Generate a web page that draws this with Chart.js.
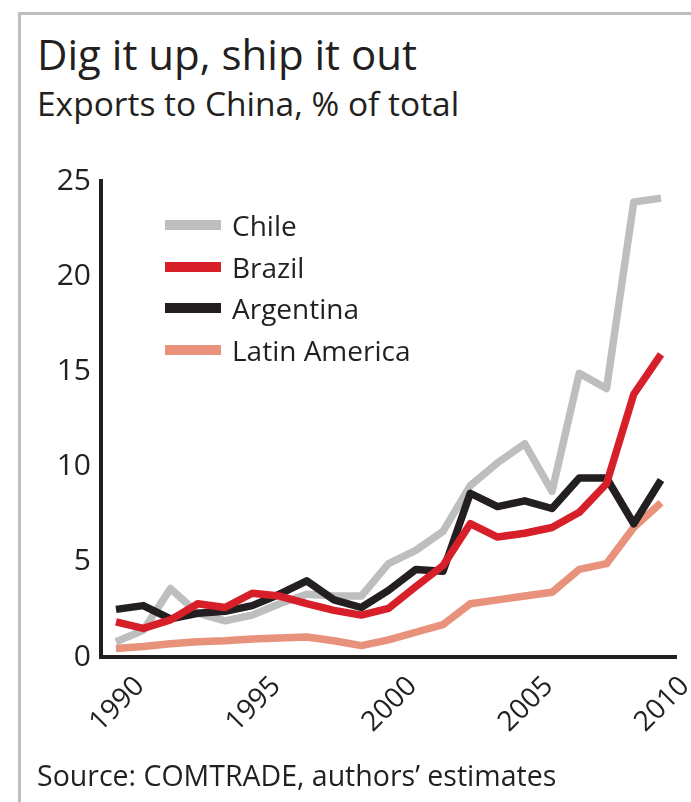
<!DOCTYPE html>
<html lang="en">
<head>
<meta charset="UTF-8">
<title>Dig it up, ship it out</title>
<style>
  html, body { margin: 0; padding: 0; background: #fff; }
  body { width: 691px; height: 802px; position: relative; overflow: hidden; font-family: 'Open Sans', sans-serif; color: #231f20; }
  .frame { position: absolute; left: 18px; top: 12px; right: -10px; bottom: -10px; border-left: 3px solid #bdbdbd; border-top: 3px solid #bdbdbd; }
  .title { position: absolute; left: 37px; top: 33px; font-size: 42px; line-height: 42px; white-space: nowrap; }
  .subtitle { position: absolute; left: 37px; top: 87px; font-size: 33.5px; line-height: 33.5px; white-space: nowrap; }
  .source { position: absolute; left: 37px; top: 761px; font-size: 28.5px; line-height: 28.5px; white-space: nowrap; }
  #chart { position: absolute; left: 0; top: 0; }
  .legend { position: absolute; left: 165px; top: 204px; }
  .legend div { height: 41.7px; display: flex; align-items: center; font-size: 28px; white-space: nowrap; }
  .legend span.swatch { display: inline-block; width: 56px; height: 10px; margin-right: 11px; }
</style>
</head>
<body>
<div class="frame"></div>
<div class="title">Dig it up, ship it out</div>
<div class="subtitle">Exports to China, % of total</div>
<canvas id="chart" width="691" height="802"></canvas>
<div class="legend" id="legend"></div>
<div class="source">Source: COMTRADE, authors’ estimates</div>

<script src="https://cdn.jsdelivr.net/npm/chart.js"></script>
<script>
// exports to China as % of each exporter's total
const years = [1990, 1991, 1992, 1993, 1994, 1995, 1996, 1997, 1998, 1999, 2000,
               2001, 2002, 2003, 2004, 2005, 2006, 2007, 2008, 2009, 2010];
const tickYears = [1990, 1995, 2000, 2005, 2010];
const yTicks = [0, 5, 10, 15, 20, 25];

const chile     = [0.8, 1.4, 3.6, 2.3, 1.9, 2.2, 2.8, 3.3, 3.2, 3.2, 4.9, 5.6, 6.6, 9.0, 10.2, 11.2, 8.7, 14.9, 14.1, 23.9, 24.1];
const brazil    = [1.85, 1.5, 1.95, 2.8, 2.6, 3.35, 3.2, 2.8, 2.45, 2.2, 2.55, 3.7, 4.8, 7.0, 6.3, 6.5, 6.8, 7.6, 9.1, 13.8, 15.9];
const argentina = [2.5, 2.7, 2.0, 2.3, 2.4, 2.7, 3.3, 4.0, 3.0, 2.6, 3.5, 4.6, 4.5, 8.6, 7.9, 8.2, 7.8, 9.4, 9.4, 7.0, 9.3];
const latinAmerica = [0.45, 0.55, 0.7, 0.8, 0.85, 0.95, 1.0, 1.05, 0.85, 0.6, 0.9, 1.3, 1.7, 2.8, 3.0, 3.2, 3.4, 4.6, 4.9, 6.8, 8.1];

const ink = '#231f20';

function points(values) {
  return values.map((v, i) => ({ x: years[i], y: v }));
}

function serie(label, values, color, order) {
  return {
    label: label,
    data: points(values),
    borderColor: color,
    backgroundColor: color,
    borderWidth: 7.5,
    borderJoinStyle: 'round',
    pointRadius: 0,
    tension: 0,
    order: order   // lower order is painted on top
  };
}

Chart.defaults.font.family = "'Open Sans', sans-serif";
Chart.defaults.color = ink;

const chart = new Chart(document.getElementById('chart'), {
  type: 'line',
  data: {
    datasets: [
      serie('Chile', chile, '#bcbec0', 4),
      serie('Brazil', brazil, '#d71f2a', 1),
      serie('Argentina', argentina, ink, 2),
      serie('Latin America', latinAmerica, '#e8917b', 3)
    ]
  },
  options: {
    responsive: false,
    animation: false,
    devicePixelRatio: 1,
    layout: { padding: { top: 181, right: 15, bottom: 0, left: 0 } },
    plugins: { legend: { display: false }, tooltip: { enabled: false } },
    scales: {
      x: {
        type: 'linear',
        min: 1989.45,
        max: 2010.55,
        afterBuildTicks: (scale) => { scale.ticks = tickYears.map(v => ({ value: v })); },
        afterFit: (scale) => { scale.height = 145; scale.paddingLeft = 0; scale.paddingRight = 0; },
        grid: { display: false, drawTicks: false },
        border: { display: true, color: ink, width: 4 },
        ticks: {
          minRotation: 45,
          maxRotation: 45,
          autoSkip: false,
          labelOffset: 24,
          padding: 13,
          font: { size: 28 },
          callback: (v) => String(v)
        }
      },
      y: {
        min: 0,
        max: 25,
        afterBuildTicks: (scale) => { scale.ticks = yTicks.map(v => ({ value: v })); },
        afterFit: (scale) => { scale.width = 101; },
        grid: { display: false, drawTicks: false },
        border: { display: true, color: ink, width: 4 },
        ticks: { padding: 10, font: { size: 30 } }
      }
    }
  }
});

// legend inside the plot, built from the datasets
const legend = document.getElementById('legend');
chart.data.datasets.forEach(ds => {
  const row = document.createElement('div');
  const sw = document.createElement('span');
  sw.className = 'swatch';
  sw.style.background = ds.borderColor;
  row.appendChild(sw);
  row.appendChild(document.createTextNode(ds.label));
  legend.appendChild(row);
});
</script>
</body>
</html>
